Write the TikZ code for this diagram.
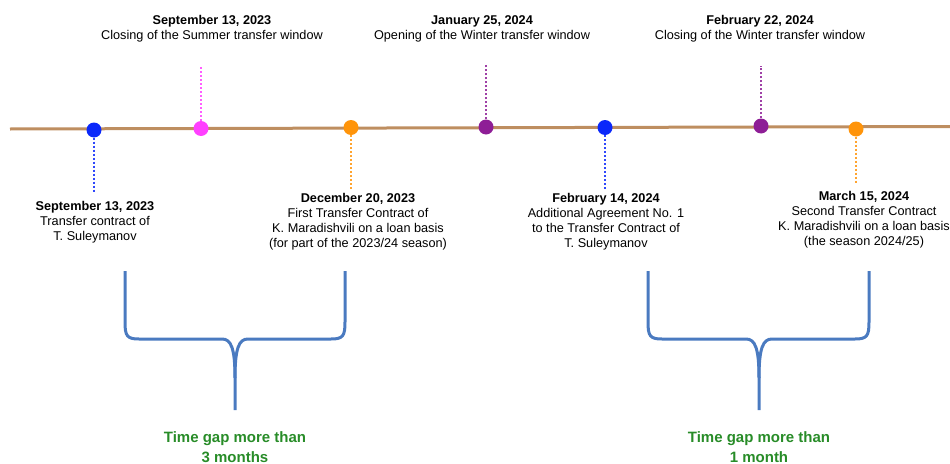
\documentclass[tikz,border=0pt]{standalone}
\usepackage{fontspec}
\setmainfont{Liberation Sans}
\definecolor{axisbrown}{RGB}{190,142,96}
\definecolor{evblue}{RGB}{10,40,250}
\definecolor{evpink}{RGB}{255,64,255}
\definecolor{evorange}{RGB}{255,148,10}
\definecolor{evpurple}{RGB}{142,30,150}
\definecolor{bracecol}{RGB}{74,122,192}
\definecolor{gapgreen}{RGB}{40,140,40}
\tikzset{
  event/.style={circle,fill=#1,minimum size=15pt,inner sep=0pt},
  drop/.style={draw=#1,line width=2pt,dash pattern=on 2pt off 2pt},
  lbl/.style={align=center,inner sep=0pt,font=\fontsize{12.7}{15}\selectfont},
  gaplbl/.style={align=center,inner sep=0pt,text=gapgreen,font=\fontsize{15}{20}\selectfont\bfseries},
  gapbrace/.style={draw=bracecol,line width=3pt}
}
\begin{document}
\begin{tikzpicture}[x=1pt,y=-1pt]
  \useasboundingbox (0,0) rectangle (950,463);
  % time axis
  \coordinate (axl) at (10,129);
  \coordinate (axr) at (950,126.5);
  \draw [axisbrown,line width=3pt] (axl) -- (axr);
  % events on the axis
  \node [event=evblue] (sul1) at (94,130) {};
  \node [event=evpink] (summer) at (201,128.5) {};
  \node [event=evorange] (mar1) at (351,127.5) {};
  \node [event=evpurple] (winopen) at (486,127) {};
  \node [event=evblue] (sul2) at (605,127.5) {};
  \node [event=evpurple] (winclose) at (761,126) {};
  \node [event=evorange] (mar2) at (856,129) {};
  % labels above
  \node [lbl,anchor=north] (summerlbl) at (212,15.5) {{\bfseries September 13, 2023}\\Closing of the Summer transfer window};
  \node [lbl,anchor=north] (winopenlbl) at (482,15.5) {{\bfseries January 25, 2024}\\Opening of the Winter transfer window};
  \node [lbl,anchor=north] (wincloselbl) at (760,15.5) {{\bfseries February 22, 2024}\\Closing of the Winter transfer window};
  % labels below
  \node [lbl,anchor=north] (sul1lbl) at (95,201) {{\bfseries September 13, 2023}\\Transfer contract of\\T. Suleymanov};
  \node [lbl,anchor=north] (mar1lbl) at (358,193.5) {{\bfseries December 20, 2023}\\First Transfer Contract of\\K. Maradishvili on a loan basis\\(for part of the 2023/24 season)};
  \node [lbl,anchor=north] (sul2lbl) at (606,193.5) {{\bfseries February 14, 2024}\\Additional Agreement No. 1\\to the Transfer Contract of\\T. Suleymanov};
  \node [lbl,anchor=north] (mar2lbl) at (864,191.5) {{\bfseries March 15, 2024}\\Second Transfer Contract\\K. Maradishvili on a loan basis\\(the season 2024/25)};
  % dotted drops
  \draw [drop=evpink!85,shorten >=23pt] (summer) -- (summer |- summerlbl.south);
  \draw [drop=evpurple!85,shorten >=23pt] (winopen) -- (winopen |- winopenlbl.south);
  \draw [drop=evpurple!85,shorten >=23pt] (winclose) -- (winclose |- wincloselbl.south);
  \draw [drop=evblue!85,shorten >=8pt] (sul1) -- (sul1 |- sul1lbl.north);
  \draw [drop=evorange!85,shorten >=5pt] (mar1) -- (mar1 |- mar1lbl.north);
  \draw [drop=evblue!85,shorten >=5pt] (sul2) -- (sul2 |- sul2lbl.north);
  \draw [drop=evorange!85,shorten >=8pt] (mar2) -- (mar2 |- mar2lbl.north);
  % braces
  \draw [gapbrace] (125,271) -- (125,322) .. controls (125,336) and (127,339) .. (139,339) -- (222,339)
    .. controls (231,339) and (235,348) .. (235,378) -- (235,410);
  \draw [gapbrace] (345,271) -- (345,322) .. controls (345,336) and (343,339) .. (331,339) -- (248,339)
    .. controls (239,339) and (235,348) .. (235,378);
  \draw [gapbrace] (648,271) -- (648,322) .. controls (648,336) and (650,339) .. (662,339) -- (746,339)
    .. controls (755,339) and (759,348) .. (759,378) -- (759,410);
  \draw [gapbrace] (869,271) -- (869,322) .. controls (869,336) and (867,339) .. (855,339) -- (772,339)
    .. controls (763,339) and (759,348) .. (759,378);
  % gap notes
  \node [gaplbl,anchor=north] (gap1) at (235,431.5) {Time gap more than\\3 months};
  \node [gaplbl,anchor=north] (gap2) at (759,431.5) {Time gap more than\\1 month};
\end{tikzpicture}
\end{document}
